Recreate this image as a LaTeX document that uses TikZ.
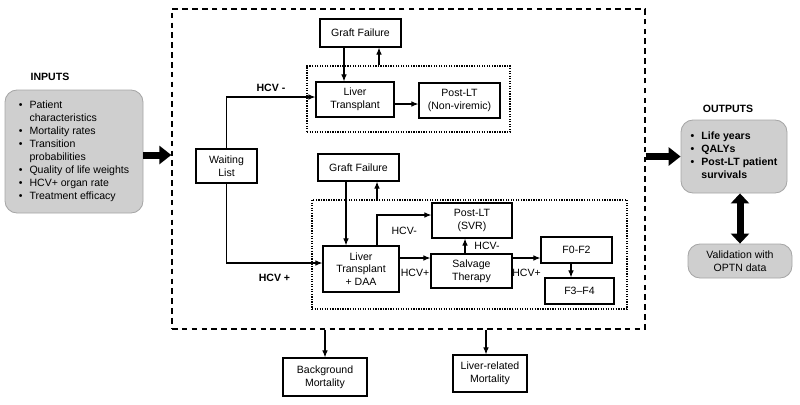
\documentclass[tikz,border=0pt]{standalone}
\usepackage{fontspec}
\setmainfont{Liberation Sans}
\usetikzlibrary{arrows.meta,calc}
\newlength\unitpx
\setlength\unitpx{0.025cm}
\tikzset{
  box/.style={draw, line width=0.8pt, align=center, inner sep=1pt},
  graybox/.style={draw=gray!70, fill=gray!38, rounded corners=0.3cm, line width=0.6pt},
  dotbox/.style={draw, line width=0.9pt, dash pattern=on 0.9pt off 0.9pt},
  dashbox/.style={draw, line width=1pt, dash pattern=on 4pt off 3pt},
  arr/.style={-{Latex[length=5pt,width=4pt]}, line width=0.8pt},
  fat/.style={line width=0.175cm, -{Triangle[length=0.3cm,width=0.45cm]}},
  fatboth/.style={line width=0.175cm, {Triangle[length=0.25cm,width=0.45cm]}-{Triangle[length=0.25cm,width=0.45cm]}},
}
\begin{document}
\begin{tikzpicture}[x=0.025cm, y=-0.025cm, font=\fontsize{7.5}{9}\selectfont]
\useasboundingbox (0,0) rectangle (800,404);
% model frame
\node[dashbox, minimum width=473\unitpx, minimum height=320\unitpx] (frame) at (408.5,169) {};
\node[dotbox, minimum width=203\unitpx, minimum height=66\unitpx] (hcvneg) at (408.5,99) {};
\node[dotbox, minimum width=315\unitpx, minimum height=109\unitpx] (hcvpos) at (469.5,254.5) {};
% inputs / outputs
\node[font=\fontsize{7.5}{9}\bfseries] (inlbl) at (50,77) {INPUTS};
\node[graybox, minimum width=138\unitpx, minimum height=123\unitpx] (inputs) at (74,151.5)
  {\fontsize{7.5}{9.3}\selectfont\begin{tabular}{@{}l@{\hspace{5pt}}l@{}}
  \textbullet & Patient\\ & characteristics\\ \textbullet & Mortality rates\\
  \textbullet & Transition\\ & probabilities\\ \textbullet & Quality of life weights\\
  \textbullet & HCV+ organ rate\\ \textbullet & Treatment efficacy\end{tabular}};
\node[font=\fontsize{7.5}{9}\bfseries] (outlbl) at (728,109) {OUTPUTS};
\node[graybox, minimum width=106\unitpx, minimum height=73\unitpx] (outputs) at (734,156.5)
  {\fontsize{7.5}{9.3}\bfseries\begin{tabular}{@{}l@{\hspace{5pt}}l@{}}
  \textbullet & Life years\\ \textbullet & QALYs\\
  \textbullet & Post-LT patient\\ & survivals\end{tabular}};
\node[graybox, align=center, minimum width=104\unitpx, minimum height=34\unitpx] (valid) at (740,261) {Validation with\\OPTN data};
% states
\node[box, minimum width=61\unitpx, minimum height=34\unitpx] (wl) at (226.5,166) {Waiting\\List};
\node[box, minimum width=81\unitpx, minimum height=28\unitpx] (gfa) at (360.5,33) {Graft Failure};
\node[box, minimum width=78\unitpx, minimum height=35\unitpx] (lta) at (355,99.5) {Liver\\Transplant};
\node[box, minimum width=81\unitpx, minimum height=35\unitpx] (posta) at (459.5,100.5) {Post-LT\\(Non-viremic)};
\node[box, minimum width=81\unitpx, minimum height=27\unitpx] (gfb) at (358.5,167.5) {Graft Failure};
\node[box, minimum width=76\unitpx, minimum height=46\unitpx] (ltb) at (361,269) {Liver\\Transplant\\+ DAA};
\node[box, minimum width=80\unitpx, minimum height=35\unitpx] (svr) at (472,220.5) {Post-LT\\(SVR)};
\node[box, minimum width=81\unitpx, minimum height=34\unitpx] (salv) at (471.5,271) {Salvage\\Therapy};
\node[box, minimum width=71\unitpx, minimum height=26\unitpx] (f02) at (576.5,250) {F0-F2};
\node[box, minimum width=69\unitpx, minimum height=26\unitpx] (f34) at (579.5,291) {F3–F4};
\node[box, minimum width=84\unitpx, minimum height=38\unitpx] (bgm) at (325,377) {Background\\Mortality};
\node[box, minimum width=74\unitpx, minimum height=37\unitpx] (lrm) at (490,373.5) {Liver-related\\Mortality};
% connectors
\draw[fat] ($(inputs.east)+(0,3.5)$) -- ($(frame.west |- inputs.east)+(0,3.5)$);
\draw[fat] (frame.east |- outputs.west) -- (outputs.west);
\draw[fatboth] (valid.north |- outputs.south) -- (valid.north);
\draw[arr] (wl.north) |- node[pos=0.75, above, font=\fontsize{7.5}{9}\bfseries] {HCV -} ($(lta.west)+(0,-2.5)$);
\draw[arr] (wl.south) |- node[pos=0.75, below=4pt, font=\fontsize{7.5}{9}\bfseries] {HCV +} ($(ltb.west)+(0,-6)$);
\draw[arr] ($(gfa.south)+(-16.5,0)$) -- ($(lta.north)+(-11,0)$);
\draw[arr] ($(gfa.south |- hcvneg.north)+(18.5,0)$) -- ($(gfa.south)+(18.5,0)$);
\draw[arr] ($(lta.east)+(0,4.5)$) -- ($(posta.west)+(0,3.5)$);
\draw[arr] ($(gfb.south)+(-12.5,0)$) -- ($(ltb.north)+(-15,0)$);
\draw[arr] ($(gfb.south |- hcvpos.north)+(18.5,0)$) -- ($(gfb.south)+(18.5,0)$);
\draw[arr] ($(ltb.north)+(16,0)$) |- node[pos=0.75, below=5pt] {HCV-} ($(svr.west)+(0,-5.5)$);
\draw[arr] ($(ltb.east)+(0,-11)$) -- node[below=4pt] {HCV+} ($(salv.west)+(0,-13)$);
\draw[arr] ($(salv.north)+(-6.5,0)$) -- node[right=3pt] {HCV-} ($(svr.south)+(-7,0)$);
\draw[arr] ($(salv.east)+(0,-13)$) -- node[below=4pt] {HCV+} ($(f02.west)+(0,8)$);
\draw[arr] ($(f02.south)+(-5.5,0)$) -- ($(f34.north)+(-8.5,0)$);
\draw[arr] (bgm.north |- frame.south) -- (bgm.north);
\draw[arr] ($(lrm.north |- frame.south)+(-4,0)$) -- ($(lrm.north)+(-4,0)$);
\end{tikzpicture}
\end{document}
